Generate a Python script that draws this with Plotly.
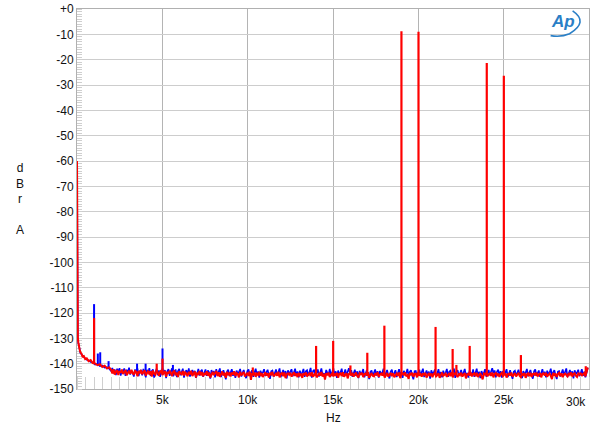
import plotly.graph_objects as go

# ---------------- data ----------------
# low-frequency rise (Hz, dBrA)
lf_freqs = [0, 10, 20, 35, 50, 75, 100, 150, 200, 260, 320, 400, 480, 570, 680,
            800, 920, 1060, 1200, 1340, 1480, 1620, 1760, 1880]
red_lf = [-60, -90, -110, -124, -129.5, -131.5, -133, -134.3, -135.5, -136.0, -137.2,
          -137.0, -138.2, -137.9, -139.0, -138.6, -139.8, -139.9, -140.6, -140.2,
          -141.3, -140.8, -141.9, -141.4]
blue_lf = [-60, -90, -110, -124, -129.8, -131.8, -133.3, -134.0, -135.8, -136.3, -136.8,
           -137.6, -137.9, -138.5, -138.7, -139.3, -139.5, -140.4, -140.1, -141.0,
           -140.7, -141.6, -141.4, -142.0]

# noise floor from 2 kHz to 30 kHz, one reading every 70 Hz
floor_start = 2000
floor_step = 70
red_floor = [
    -142.4, -143.9, -142.2, -144.3, -143.1, -142.6, -144.5, -142.9, -143.6, -142.3,
    -144.1, -143.0, -142.5, -144.6, -143.4, -142.8, -144.0, -142.4, -143.7, -144.4,
    -142.7, -143.3, -145.0, -142.9, -143.8, -142.5, -144.2, -143.1, -142.6, -144.7,
    -143.5, -142.8, -144.3, -143.0, -145.1, -142.7, -143.9, -144.4, -142.9, -143.4,
    -144.8, -143.2, -142.7, -144.5, -143.6, -142.9, -145.2, -143.3, -144.0, -142.8,
    -143.7, -144.9, -143.1, -142.9, -144.6, -143.5, -145.3, -143.0, -143.8, -144.2,
    -142.9, -144.7, -143.4, -143.9, -145.0, -143.2, -144.3, -142.8, -144.9, -143.6,
    -143.1, -145.4, -143.8, -144.1, -142.9, -144.6, -143.3, -145.0, -143.7, -144.4,
    -143.0, -144.8, -143.5, -145.5, -143.9, -143.2, -144.5, -143.7, -142.9, -144.9,
    -143.4, -145.2, -144.0, -143.1, -144.7, -143.6, -145.6, -143.3, -144.2, -143.8,
    -145.0, -143.5, -144.3, -143.0, -144.9, -143.7, -144.1, -145.4, -143.2, -144.6,
    -143.9, -143.3, -145.1, -144.0, -143.6, -144.8, -143.1, -146.4, -143.8, -144.3,
    -143.5, -145.2, -143.9, -144.4, -143.2, -144.9, -143.7, -145.3, -144.1, -143.4,
    -144.7, -143.8, -145.5, -143.6, -144.2, -143.3, -145.0, -144.5, -143.9, -144.8,
    -143.2, -145.4, -144.0, -143.7, -144.9, -143.5, -145.7, -144.1, -143.8, -144.4,
    -143.6, -145.1, -144.3, -143.4, -144.8, -143.9, -145.3, -143.7, -144.6, -144.0,
    -145.6, -143.8, -144.5, -143.5, -145.0, -144.2, -143.6, -144.9, -143.4, -145.2,
    -144.1, -143.7, -145.4, -144.3, -143.9, -144.7, -143.3, -145.1, -144.0, -146.3,
    -143.8, -144.6, -143.5, -145.3, -144.2, -143.7, -145.0, -143.9, -144.8, -143.6,
    -145.5, -144.0, -143.8, -144.9, -143.4, -145.2, -144.4, -143.7, -145.8, -144.1,
    -143.9, -144.7, -143.6, -145.1, -144.3, -143.5, -144.9, -145.4, -143.8, -144.2,
    -143.6, -145.3, -144.1, -143.9, -144.6, -143.4, -145.6, -144.2, -143.7, -144.8,
    -145.0, -143.8, -144.5, -143.3, -145.2, -144.4, -143.9, -144.7, -143.5, -145.5,
    -144.2, -143.7, -145.1, -144.0, -143.6, -144.9, -143.8, -145.3, -144.3, -143.9,
    -144.8, -143.5, -145.7, -144.1, -143.8, -144.6, -143.4, -145.0, -144.5, -146.0,
    -143.7, -144.3, -143.6, -145.2, -144.0, -143.9, -145.4, -143.5, -144.7, -144.1,
    -145.1, -143.8, -144.4, -143.6, -145.5, -144.2, -143.7, -144.9, -143.9, -145.3,
    -144.0, -143.6, -145.0, -144.5, -143.8, -145.6, -144.1, -143.5, -144.8, -144.3,
    -143.9, -145.2, -144.2, -143.7, -144.9, -143.4, -145.4, -144.0, -143.8, -144.6,
    -145.3, -143.9, -144.5, -143.6, -145.1, -144.3, -143.7, -145.8, -144.2, -143.9,
    -144.7, -143.5, -145.0, -144.1, -143.8, -144.9, -143.6, -145.3, -144.4, -143.7,
    -144.9, -146.2, -143.9, -144.3, -143.6, -145.0, -144.2, -143.8, -144.8, -143.5,
    -145.4, -144.0, -143.7, -144.6, -143.9, -145.2, -144.1, -143.6, -144.9, -144.3,
    -143.8, -145.5, -144.2, -143.9, -144.7, -143.5, -145.1, -144.4, -143.7, -145.0,
    -144.0, -143.6, -144.8, -145.3, -143.9, -144.5, -143.7, -145.6, -144.2, -143.8,
    -144.9, -143.6, -145.2, -144.1, -143.9, -144.6, -143.5, -145.0, -144.3, -143.7,
    -145.4, -144.0, -143.8, -144.7, -143.6, -145.1, -144.4, -143.9, -144.8, -146.1,
    -143.7, -144.5, -143.9, -145.2, -144.1, -143.6, -144.9, -143.8, -145.3, -144.2,
    -143.9, -144.6, -145.0, -143.7, -144.4, -143.5, -145.1, -144.0, -143.8, -144.7,
    -145.2, -143.9, -144.3, -143.6, -144.8, -144.1, -143.7, -145.0, -143.6, -141.5,
]
blue_floor = [
    -142.9, -141.7, -143.8, -142.3, -144.5, -142.0, -143.4, -141.8, -144.7, -142.6,
    -143.2, -141.9, -144.8, -142.4, -143.7, -141.6, -144.3, -142.8, -143.5, -145.1,
    -142.3, -143.8, -141.9, -144.9, -143.0, -142.5, -144.6, -142.1, -143.7, -145.4,
    -142.4, -143.5, -141.8, -144.8, -142.9, -142.3, -145.5, -143.2, -142.0, -144.5,
    -142.7, -145.2, -143.3, -141.9, -144.1, -142.5, -145.7, -143.0, -142.2, -144.8,
    -143.1, -141.8, -145.0, -143.5, -142.3, -145.3, -142.9, -142.1, -144.6, -143.4,
    -142.0, -145.5, -143.2, -142.6, -144.4, -141.9, -145.1, -143.7, -142.5, -144.2,
    -142.8, -145.6, -143.3, -142.1, -144.7, -143.0, -142.4, -145.2, -143.6, -142.3,
    -144.8, -142.7, -143.4, -145.9, -142.5, -144.1, -142.9, -145.4, -142.2, -144.5,
    -143.2, -141.9, -145.3, -143.7, -142.6, -144.3, -146.2, -143.1, -142.4, -144.9,
    -143.5, -142.2, -144.8, -143.0, -145.6, -142.7, -143.9, -143.3, -142.1, -145.1,
    -143.6, -142.5, -144.5, -145.7, -142.9, -142.3, -144.7, -143.4, -142.6, -145.2,
    -143.8, -142.0, -144.4, -143.1, -145.5, -142.8, -144.0, -143.5, -142.2, -144.9,
    -143.3, -142.4, -144.6, -146.0, -143.0, -142.7, -145.1, -143.6, -142.3, -144.8,
    -143.2, -141.9, -145.3, -143.7, -142.5, -144.5, -142.9, -145.8, -142.6, -144.1,
    -143.4, -142.2, -145.0, -143.8, -142.0, -144.7, -143.1, -145.4, -142.8, -144.3,
    -143.5, -142.1, -145.2, -143.0, -142.6, -144.8, -143.3, -141.7, -145.5, -142.9,
    -142.4, -144.6, -143.7, -142.3, -145.1, -143.2, -141.9, -144.5, -143.8, -145.3,
    -142.5, -143.6, -144.4, -142.1, -144.9, -143.4, -141.8, -144.7, -143.0, -145.6,
    -142.7, -144.2, -143.5, -142.0, -145.0, -143.8, -142.3, -144.6, -143.1, -141.8,
    -143.9, -142.6, -145.2, -143.3, -142.4, -144.8, -143.0, -145.7, -142.8, -144.3,
    -143.6, -142.1, -145.4, -143.9, -142.5, -144.4, -146.1, -143.2, -142.7, -144.9,
    -143.4, -142.3, -144.7, -143.0, -145.5, -142.9, -144.2, -143.6, -142.0, -145.1,
    -143.7, -142.5, -144.6, -145.8, -143.1, -142.4, -144.9, -143.5, -142.6, -145.3,
    -143.9, -142.2, -144.5, -143.3, -145.6, -142.8, -144.0, -143.7, -142.1, -144.8,
    -143.2, -142.6, -144.7, -146.2, -143.0, -142.9, -145.0, -143.6, -142.4, -144.6,
    -143.4, -142.0, -145.3, -143.8, -142.7, -144.5, -143.1, -145.9, -142.6, -144.0,
    -143.5, -142.3, -145.1, -143.9, -142.2, -144.9, -143.3, -145.4, -142.8, -144.4,
    -143.6, -142.1, -145.2, -143.2, -142.8, -144.7, -143.5, -141.9, -145.6, -143.1,
    -142.6, -144.6, -143.9, -142.5, -145.0, -143.4, -142.1, -144.8, -143.7, -145.5,
    -142.7, -143.8, -144.4, -142.3, -145.2, -143.6, -142.0, -144.9, -143.2, -145.7,
    -142.9, -144.2, -143.7, -142.2, -145.1, -143.9, -142.5, -144.6, -143.3, -141.8,
    -143.8, -142.7, -145.4, -143.1, -142.4, -144.7, -143.0, -145.5, -142.9, -144.2,
    -143.5, -142.2, -145.3, -143.7, -142.6, -144.5, -146.0, -143.2, -142.8, -144.8,
    -143.3, -142.4, -144.6, -143.1, -145.7, -142.9, -144.1, -143.5, -142.1, -145.0,
    -143.6, -142.5, -144.8, -145.9, -143.0, -142.3, -144.7, -143.4, -142.7, -145.2,
    -143.8, -142.2, -144.4, -143.2, -145.4, -142.8, -144.0, -143.6, -142.0, -144.9,
    -143.4, -142.6, -144.5, -146.1, -143.1, -142.9, -145.1, -143.7, -142.3, -144.6,
    -143.3, -141.9, -145.3, -143.9, -142.5, -144.4, -143.0, -145.8, -142.6, -144.1,
    -143.5, -142.4, -145.0, -143.8, -142.2, -144.8, -143.2, -145.4, -142.7, -141.6,
]

# discrete tones / spurs (frequency, peak level, level at spur foot)
red_spike_freqs = [1000, 4670, 5010, 10300, 14010, 15010, 16020, 17010, 18010, 19010,
                   20010, 21010, 22010, 22230, 23010, 24010, 25010, 26010, 29810]
red_spike_levels = [-122, -140, -138, -141.5, -133, -131, -140.7, -135.7, -125, -8.8,
                    -9.0, -125.5, -134.2, -140.5, -133, -21.3, -26.3, -136.6, -141]
red_spike_feet = [-140, -143, -143.5, -143.5, -144, -144, -144, -144, -144, -144,
                  -144, -144, -144, -144, -144, -144, -144, -144, -144]
blue_spike_freqs = [1000, 1220, 1360, 1850, 3520, 4020, 5010, 5620]
blue_spike_levels = [-116.5, -136, -135.5, -139, -140, -140, -134, -140.5]
blue_spike_feet = [-140, -140.5, -140.5, -141.5, -143, -143, -143.5, -143.5]

x_tickvals = [5000, 10000, 15000, 20000, 25000, 30000]
x_ticktext = ["5k", "10k", "15k", "20k", "25k", ""]
y_tickvals = list(range(0, -151, -10))
y_ticktext = ["+0"] + [str(v) for v in y_tickvals[1:]]


def floor_xy(lf_f, lf_v, floor_v):
    xs = list(lf_f) + [floor_start + i * floor_step for i in range(len(floor_v))]
    ys = list(lf_v) + list(floor_v)
    return xs, ys


def spikes_xy(freqs, peaks, feet):
    xs, ys = [], []
    for f, p, b in zip(freqs, peaks, feet):
        xs += [f, f, None]
        ys += [b, p, None]
    return xs, ys


bfx, bfy = floor_xy(lf_freqs, blue_lf, blue_floor)
rfx, rfy = floor_xy(lf_freqs, red_lf, red_floor)
bsx, bsy = spikes_xy(blue_spike_freqs, blue_spike_levels, blue_spike_feet)
rsx, rsy = spikes_xy(red_spike_freqs, red_spike_levels, red_spike_feet)

fig = go.Figure()
fig.add_trace(go.Scatter(x=bfx, y=bfy, mode="lines",
                         line=dict(color="#0000ff", width=1.6), hoverinfo="skip"))
fig.add_trace(go.Scatter(x=bsx, y=bsy, mode="lines",
                         line=dict(color="#0000ff", width=2), hoverinfo="skip"))
fig.add_trace(go.Scatter(x=rfx, y=rfy, mode="lines",
                         line=dict(color="#ff0000", width=2.0), hoverinfo="skip"))
fig.add_trace(go.Scatter(x=rsx, y=rsy, mode="lines",
                         line=dict(color="#ff0000", width=2.2), hoverinfo="skip"))

font = "Liberation Sans, Arial, sans-serif"
fig.update_layout(
    width=600, height=434,
    margin=dict(l=77, r=11, t=9, b=45, autoexpand=False),
    paper_bgcolor="white", plot_bgcolor="white",
    showlegend=False,
    font=dict(family=font, size=12, color="#111111"),
    xaxis=dict(
        range=[0, 30000], tickvals=x_tickvals, ticktext=x_ticktext,
        automargin=False, layer="below traces",
        showgrid=True, gridcolor="#b4b4b4", gridwidth=1,
        showline=True, linecolor="#b0b0b0", linewidth=1, mirror=True,
        ticks="", zeroline=False,
        minor=dict(dtick=500, ticks="inside", ticklen=12, tickcolor="#cfcfcf",
                   tickwidth=1, showgrid=False),
        tickfont=dict(family=font, size=12, color="#111111"),
    ),
    yaxis=dict(
        range=[-150, 0], tickvals=y_tickvals, ticktext=y_ticktext,
        automargin=False, layer="below traces",
        showgrid=True, gridcolor="#cdcdcd", gridwidth=1.3,
        showline=True, linecolor="#b0b0b0", linewidth=1, mirror=True,
        ticks="", zeroline=False,
        minor=dict(dtick=1, ticks="inside", ticklen=5, tickcolor="#cfcfcf",
                   tickwidth=1, showgrid=False),
        tickfont=dict(family=font, size=12, color="#111111"),
    ),
    annotations=[
        dict(text="30k", x=30000, xref="x", y=0, yref="paper", xanchor="right",
             yanchor="top", xshift=-1, yshift=-4, showarrow=False,
             font=dict(family=font, size=12, color="#111111")),
        dict(text="d<br>B<br>r<br> <br>A", x=-0.111, xref="paper", y=0.5, yref="paper",
             xanchor="center", yanchor="middle", showarrow=False,
             font=dict(family=font, size=12, color="#111111")),
        dict(text="Hz", x=0.5, xref="paper", y=-0.076, yref="paper",
             xanchor="center", yanchor="middle", showarrow=False,
             font=dict(family=font, size=12, color="#111111")),
        dict(text="<b><i>Ap</i></b>", x=0.95, xref="paper", y=0.966, yref="paper",
             xanchor="center", yanchor="middle", showarrow=False,
             font=dict(family=font, size=17, color="#2a7fc6")),
    ],
    shapes=[
        dict(type="path", xref="paper", yref="paper",
             path="M 0.968,0.995 Q 1.0,0.966 0.962,0.935 Q 0.945,0.925 0.925,0.93",
             line=dict(color="#2a7fc6", width=1.6)),
    ],
)

fig.write_html("out.html", config={"displayModeBar": False},
               post_script="document.body.style.margin='0px';")
